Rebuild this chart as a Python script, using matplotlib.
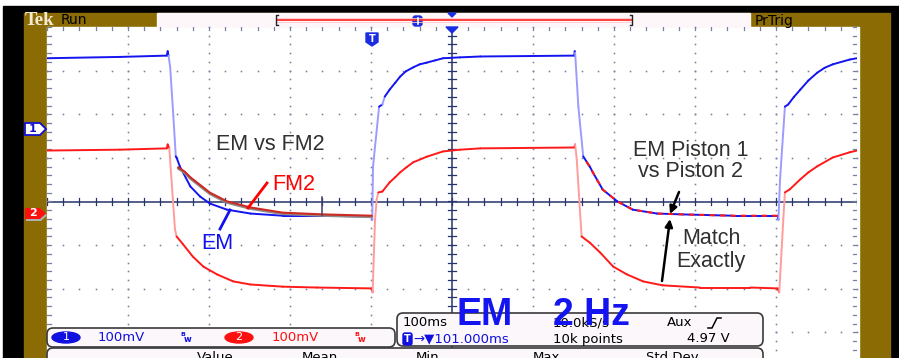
import numpy as np
import matplotlib.pyplot as plt
from matplotlib.collections import LineCollection
from matplotlib.patches import Rectangle, Polygon, FancyBboxPatch, Ellipse

# scope settings (100 ms/div, 100 mV/div, channel ground markers in divisions)
mv_per_div = 100
ch1_pos = 1.674
ch2_pos = -0.252

# channel 1 (blue) - time in ms from screen centre, value in mV
ch1_t = [-500, -410, -352, -351, -350, -348, -344, -341, -340, -336, -323, -311, -299,
         -278, -249, -209, -159, -99, -98.5, -97.5, -90, -86, -83, -77, -70, -64, -57,
         -48, -40, -31, -21, -11, 10, 35, 151, 151.5, 152, 156, 162, 170, 174, 186, 204,
         223, 253, 285, 347, 402, 403, 405, 411, 415, 422, 430, 440, 451, 460, 470, 491, 500]
ch1_mv = [161, 164, 167, 177, 167, 142, 28, -64, -67, -87, -133, -156, -172,
          -186, -195, -200, -200, -202, -209, -87, 50, 55, 73, 89, 105, 119, 131,
          140, 147, 151, 156, 161, 163, 165, 167, 177, 174, 50, -64, -87, -101, -140, -167,
          -186, -195, -197, -200, -200, -209, -117, 50, 55, 72, 89, 110, 128, 139, 147, 158, 161]

# channel 2 (red)
ch2_t = [-500, -410, -352, -351, -349, -342, -340, -332, -320, -307, -290, -270, -249,
         -209, -167, -99, -98, -95, -93, -91, -86, -77, -70, -64, -56, -48, -31, -11, 10, 35,
         151, 152, 154, 160, 170, 183, 199, 216, 236, 260, 306, 368, 402, 404, 409,
         411, 417, 430, 440, 451, 470, 491, 500]
ch2_mv = [142, 144, 147, 156, 147, -39, -55, -73, -101, -124, -142, -158, -165,
          -170, -172, -174, -183, -16, 30, 46, 48, 69, 81, 92, 104, 115, 128, 140, 144, 147,
          149, 156, 122, -55, -69, -92, -124, -142, -158, -167, -172, -172, -174, -183, -16,
          46, 53, 76, 92, 106, 126, 138, 142]

# reference waveforms shown on the channel 1 scale
fm2_t = [-338, -330, -323, -299, -278, -249, -209, -159, -99]
fm2_mv = [-89, -99, -112, -147, -167, -181, -193, -197, -200]
piston2_t = [166, 174, 186, 204, 223, 253, 285, 347, 402]
piston2_mv = [-76, -101, -140, -167, -186, -195, -197, -200, -200]

W, H = 899, 358
fig = plt.figure(figsize=(W / 100, H / 100), dpi=100)
fig.patch.set_facecolor('white')

GOLD = '#8b6b03'
BLUE = '#1414f0'
RED = '#ff1a1a'
DOT = '#7880a0'
AXIS = '#26346a'
UI = ['DejaVu Sans']
ARIAL = ['Liberation Sans', 'DejaVu Sans']

# background layer in pixel coords
back = fig.add_axes([0, 0, 1, 1], zorder=0)
back.set_xlim(0, W)
back.set_ylim(H, 0)
back.axis('off')
back.add_patch(Rectangle((3, 6), W - 3, H - 6, color='black'))
back.add_patch(Rectangle((24, 13), 866, H - 13, color=GOLD))
back.add_patch(Rectangle((47, 27), 812, H - 27, color='white'))
# top status bar
back.add_patch(Rectangle((157, 13), 593, 13.5, color='#fdf7fa'))
back.plot([277, 631], [19.5, 19.5], color='#ff3030', lw=1.3)
back.plot([277, 631], [17.5, 17.5], color='#ffc8c8', lw=0.6)
back.plot([277, 631], [21.5, 21.5], color='#ffc8c8', lw=0.6)
for bx, d in [(276, 1), (632, -1)]:
    back.plot([bx + 2 * d, bx, bx, bx + 2 * d], [15, 15, 25, 25], color='#202020', lw=1)
back.add_patch(FancyBboxPatch((413, 16), 9, 10, boxstyle='round,pad=0,rounding_size=2.5',
                              color='#1a2ee0'))
back.plot([417.5, 417.5], [18, 24], color='white', lw=1.2)
back.text(25, 20.5, 'Tek', color='#f3ead4', fontsize=13.5, fontweight='bold',
          family=['Liberation Serif', 'DejaVu Serif'], va='center')
back.text(61, 20.5, 'Run', color='black', fontsize=10, family=UI, va='center')
back.text(755, 20.5, 'PrTrig', color='black', fontsize=10, family=UI, va='center')

# scope graticule and traces
ax = fig.add_axes([47 / W, -18 / H, 810 / W, 349 / H], zorder=1)
ax.set_facecolor('none')
ax.set_xlim(-500, 500)
ax.set_ylim(-4, 4)
ax.axis('off')

minor_x = np.arange(-500, 501, 20)
minor_y = np.arange(-4, 4.01, 0.2)
for gx in range(-400, 401, 100):
    if gx != 0:
        ax.plot(np.full(minor_y.size, gx), minor_y, ls='none', marker='s', ms=1.15,
                mew=0, color=DOT, clip_on=False)
for gy in range(-3, 4):
    if gy != 0:
        ax.plot(minor_x, np.full(minor_x.size, gy), ls='none', marker='s', ms=1.15,
                mew=0, color=DOT, clip_on=False)
ax.axhline(0, color=AXIS, lw=1.1)
ax.axvline(0, color=AXIS, lw=1.1)
for mx in minor_x:
    ax.plot([mx, mx], [-0.08, 0.08], color=AXIS, lw=0.9)
    ax.plot([mx, mx], [4, 3.93], color=DOT, lw=0.9)
for my in minor_y:
    ax.plot([-5, 5], [my, my], color=AXIS, lw=0.9)
    ax.plot([-500, -495], [my, my], color=DOT, lw=0.9)
    ax.plot([500, 495], [my, my], color=DOT, lw=0.9)


def trace(t, mv, pos, dark, pale, lw=1.4, z=3):
    x = np.asarray(t, float)
    y = np.asarray(mv, float) / mv_per_div + pos
    pts = np.column_stack([x, y])
    disp = ax.transData.transform(pts)
    dx = np.abs(np.diff(disp[:, 0]))
    dy = np.abs(np.diff(disp[:, 1]))
    # fast edges are drawn dim, like on the scope screen
    steep = (dy > 3 * np.maximum(dx, 0.5)) & (dy > 6)
    segs = np.stack([pts[:-1], pts[1:]], axis=1)
    cols = [pale if s else dark for s in steep]
    ax.add_collection(LineCollection(segs, colors=cols, linewidths=lw, zorder=z,
                                     capstyle='round'))


trace(ch2_t, ch2_mv, ch2_pos, RED, '#ff9c9c', z=3)
trace(ch1_t, ch1_mv, ch1_pos, BLUE, '#9c9cff', z=4)
fm2_y = np.array(fm2_mv) / mv_per_div + ch1_pos
ax.plot(fm2_t, fm2_y - 0.025, color='#8c8c8c', lw=2.0, zorder=5, solid_capstyle='round')
ax.plot(fm2_t, fm2_y, color='#cc2a22', lw=1.5, zorder=6, solid_capstyle='round')
p2_y = np.array(piston2_mv) / mv_per_div + ch1_pos
ax.plot(piston2_t, p2_y, color=RED, lw=1.5, dashes=(2.5, 2.5), zorder=6)
ax.plot([-160.5, -160.5], [ch1_pos - 1.58, ch1_pos - 1.98], color='#404060', lw=1.1, zorder=6)

# front layer: markers, readouts, annotations
fr = fig.add_axes([0, 0, 1, 1], zorder=2)
fr.set_facecolor('none')
fr.set_xlim(0, W)
fr.set_ylim(H, 0)
fr.axis('off')

fr.add_patch(Polygon([(448, 13), (456, 13), (452, 17)], color='#1a2ee0'))
fr.add_patch(Polygon([(446, 27), (458, 27), (452, 33)], color='#1a2ee0'))
fr.add_patch(Polygon([(366, 33), (378, 33), (378, 42), (372, 46), (366, 42)], color='#1a2ee0'))
fr.text(372, 39, 'T', color='white', fontsize=7, fontweight='bold', family=UI,
        ha='center', va='center')

fr.add_patch(Polygon([(25, 123), (40, 123), (46, 129), (40, 135), (25, 135)],
                     facecolor='white', edgecolor='#1010d0', lw=1.3))
fr.text(33, 129, '1', color='#1010d0', fontsize=8, fontweight='bold', family=UI,
        ha='center', va='center')
fr.add_patch(Polygon([(26, 210), (41, 210), (47, 215.5), (41, 221), (26, 221)],
                     facecolor='#b0b0b0', edgecolor='none'))
fr.add_patch(Polygon([(25, 208), (40, 208), (46, 213.5), (40, 219), (25, 219)],
                     facecolor='#ff1010', edgecolor='none'))
fr.text(33, 213.5, '2', color='white', fontsize=8, fontweight='bold', family=UI,
        ha='center', va='center')

box_kw = dict(boxstyle='round,pad=0,rounding_size=6', facecolor='#fbf7fb',
              edgecolor='#3a3a3a', lw=1.2)
fr.add_patch(FancyBboxPatch((47, 348), 716, 30, **box_kw))
fr.add_patch(FancyBboxPatch((47, 328), 348, 19, **box_kw))
fr.add_patch(FancyBboxPatch((397, 313), 366, 33, **box_kw))

fr.add_patch(Ellipse((66, 337.5), 28, 11, color='#1010e0'))
fr.text(66, 337.5, '1', color='white', fontsize=8, family=UI, ha='center', va='center')
fr.text(98, 337.5, '100mV', color='#1010e0', fontsize=9.5, family=UI, va='center')
fr.add_patch(Ellipse((239, 337.5), 28, 11, color='#ff1010'))
fr.text(239, 337.5, '2', color='white', fontsize=8, family=UI, ha='center', va='center')
fr.text(272, 337.5, '100mV', color='#ff1010', fontsize=9.5, family=UI, va='center')
for bx, c in [(180, '#1010e0'), (354, '#ff1010')]:
    fr.text(bx, 334, 'B', color=c, fontsize=4.5, fontweight='bold', family=UI, va='center')
    fr.text(bx + 3.5, 339.5, 'w', color=c, fontsize=6, fontweight='bold', family=UI, va='center')

fr.text(403, 323, '100ms', color='black', fontsize=9.5, family=UI, va='center')
fr.add_patch(FancyBboxPatch((403, 333), 9, 12, boxstyle='round,pad=0,rounding_size=2',
                            color='#1010e0'))
fr.text(407.5, 339, 'T', color='white', fontsize=7, fontweight='bold', family=UI,
        ha='center', va='center')
fr.text(413, 339, '\u2192\u25bc101.000ms', color='#1010e0', fontsize=9.5, family=UI,
        va='center')
fr.text(553, 323, '10.0kS/s', color='black', fontsize=9.5, family=UI, va='center')
fr.text(553, 339, '10k points', color='black', fontsize=9.5, family=UI, va='center')
fr.text(667, 323, 'Aux', color='black', fontsize=9.5, family=UI, va='center')
fr.plot([708, 712, 717, 721], [328, 328, 318, 318], color='black', lw=1.1)
fr.text(730, 339, '4.97 V', color='black', fontsize=9.5, family=UI, va='center', ha='right')
for hx, lab in [(215, 'Value'), (320, 'Mean'), (428, 'Min'), (546, 'Max'), (672, 'Std Dev')]:
    fr.text(hx, 351, lab, color='black', fontsize=9.5, family=UI, va='top', ha='center')

fr.text(485, 315, 'EM', color=BLUE, fontsize=27, fontweight='bold', family=ARIAL,
        ha='center', va='center')
fr.text(591, 315, '2 Hz', color=BLUE, fontsize=27, fontweight='bold', family=ARIAL,
        ha='center', va='center')

# annotations
TXT = '#303030'
fr.text(270, 144.5, 'EM vs FM2', color=TXT, fontsize=15.5, family=ARIAL, ha='center', va='center')
fr.text(294, 185, 'FM2', color='#ff0000', fontsize=15.5, family=ARIAL, ha='center', va='center')
fr.plot([267, 248], [183, 208], color='#ff0000', lw=2)
fr.text(217, 243.5, 'EM', color='#1010f0', fontsize=15.5, family=ARIAL, ha='center', va='center')
fr.plot([230, 220], [210, 229], color='#1010f0', lw=2)
fr.text(691, 150.5, 'EM Piston 1', color=TXT, fontsize=15.5, family=ARIAL, ha='center', va='center')
fr.text(691, 171.5, 'vs Piston 2', color=TXT, fontsize=15.5, family=ARIAL, ha='center', va='center')
fr.text(711, 239, 'Match', color=TXT, fontsize=15.5, family=ARIAL, ha='center', va='center')
fr.text(711, 262, 'Exactly', color=TXT, fontsize=15.5, family=ARIAL, ha='center', va='center')
arrow = dict(arrowstyle='-|>', color='black', lw=1.8, mutation_scale=11, shrinkA=0, shrinkB=0)
fr.annotate('', xy=(670, 214), xytext=(679, 192), arrowprops=arrow)
fr.annotate('', xy=(670, 219), xytext=(662, 281), arrowprops=arrow)

fig.savefig('out.png', dpi=100, facecolor=fig.get_facecolor())
